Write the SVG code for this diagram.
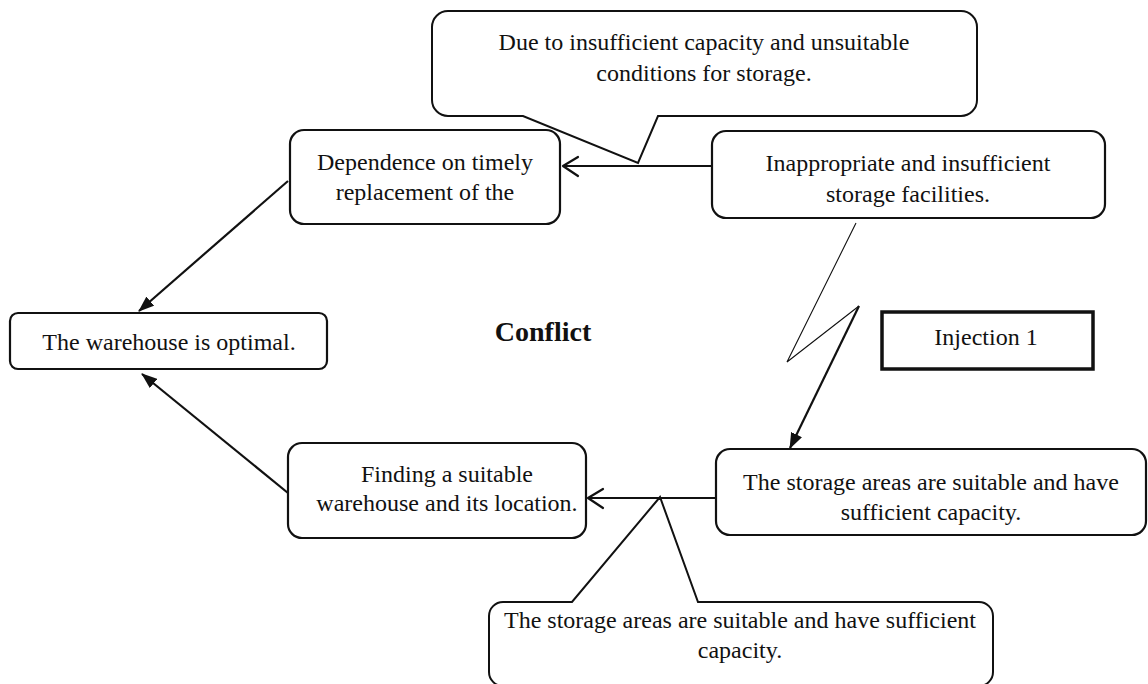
<svg xmlns="http://www.w3.org/2000/svg" width="1148" height="684" viewBox="0 0 1148 684">
<style>
text{font-family:"Liberation Serif","Times New Roman",serif;font-size:24px;fill:#111;text-anchor:middle}
.box{fill:#fff;stroke:#111;stroke-width:2.2}
.callout{fill:#fff;stroke:#111;stroke-width:2}
.ln{fill:none;stroke:#111;stroke-width:2.2}
.thin{fill:none;stroke:#111;stroke-width:1.1}
.open{fill:none;stroke:#111;stroke-width:2.2;stroke-linecap:round;stroke-linejoin:round}
</style>
<defs>
<marker id="fill" markerWidth="16" markerHeight="12" refX="15" refY="6" orient="auto" markerUnits="userSpaceOnUse">
<path d="M0,0 L16,6 L0,12 Z" fill="#111"/>
</marker>
</defs>
<rect width="1148" height="684" fill="#fff"/>
<g id="callout-top">
<path class="callout" d="M448,11 H961 A16,16 0 0 1 977,27 V100 A16,16 0 0 1 961,116 H658 L638,163 L523,116 H448 A16,16 0 0 1 432,100 V27 A16,16 0 0 1 448,11 Z"/>
<text x="704" y="50">Due to insufficient capacity and unsuitable</text>
<text x="704" y="81">conditions for storage.</text>
</g>
<g id="callout-bottom">
<path class="callout" d="M503,602 H572 L660,497 L698,602 H979 A14,14 0 0 1 993,616 V672 A14,14 0 0 1 979,686 H503 A14,14 0 0 1 489,672 V616 A14,14 0 0 1 503,602 Z"/>
<text x="740" y="628">The storage areas are suitable and have sufficient</text>
<text x="740" y="658">capacity.</text>
</g>
<g id="connectors">
<line class="ln" x1="712" y1="166" x2="563" y2="166"/>
<polyline class="open" points="578,157 563,166 578,176"/>
<line class="ln" x1="716" y1="498" x2="588" y2="498"/>
<polyline class="open" points="603,489 588,498 603,508"/>
<line class="ln" x1="288" y1="181" x2="139" y2="311" marker-end="url(#fill)"/>
<line class="ln" x1="288" y1="493" x2="142" y2="374" marker-end="url(#fill)"/>
<polyline class="thin" points="856,223 787,362 859,306"/>
<line class="ln" x1="859" y1="306" x2="790" y2="448" stroke-width="2.8" marker-end="url(#fill)"/>
</g>
<g id="dependence">
<rect class="box" x="290" y="130" width="270" height="94" rx="14"/>
<text x="425" y="170">Dependence on timely</text>
<text x="425" y="200">replacement of the</text>
</g>
<g id="inappropriate">
<rect class="box" x="712" y="131" width="393" height="87" rx="14"/>
<text x="908" y="171">Inappropriate and insufficient</text>
<text x="908" y="202">storage facilities.</text>
</g>
<g id="warehouse">
<rect class="box" x="10" y="313" width="317" height="56" rx="8"/>
<text x="169" y="350">The warehouse is optimal.</text>
</g>
<g id="conflict">
<text x="543" y="341" style="font-weight:bold;font-size:28px">Conflict</text>
</g>
<g id="injection">
<rect x="882" y="312" width="211" height="57" fill="#fff" stroke="#111" stroke-width="3.5"/>
<text x="986" y="345">Injection 1</text>
</g>
<g id="finding">
<rect class="box" x="288" y="443" width="298" height="95" rx="14"/>
<text x="447" y="482">Finding a suitable</text>
<text x="447" y="511">warehouse and its location.</text>
</g>
<g id="storage">
<rect class="box" x="716" y="449" width="430" height="86" rx="14"/>
<text x="931" y="490">The storage areas are suitable and have</text>
<text x="931" y="520">sufficient capacity.</text>
</g>
</svg>
